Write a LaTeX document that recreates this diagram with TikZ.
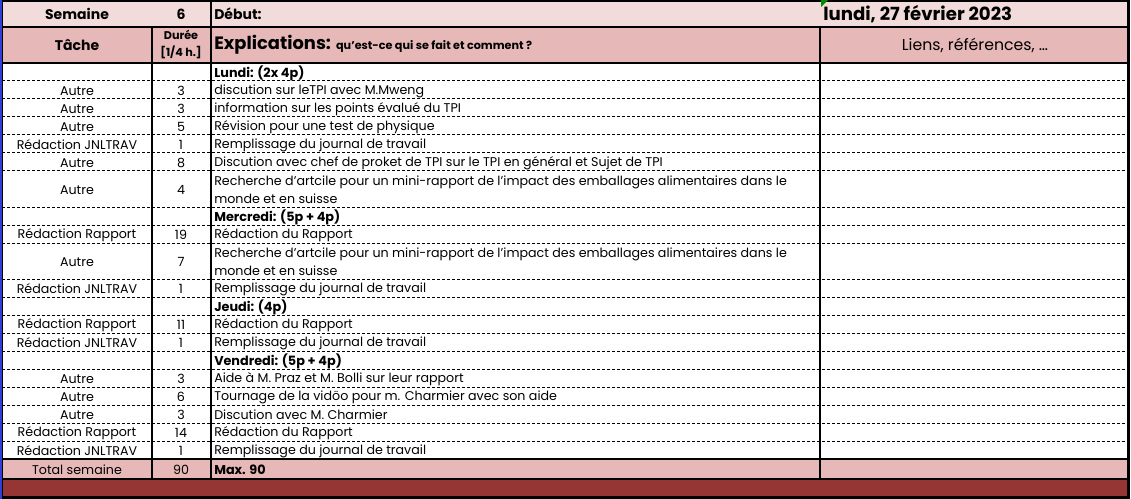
\documentclass[tikz,border=0pt]{standalone}
\usepackage{fontspec}
\setmainfont{Poppins}
\definecolor{rowlight}{HTML}{F2DCDB}
\definecolor{rowhead}{HTML}{E6B8B7}
\definecolor{band}{HTML}{963634}
\definecolor{selblue}{HTML}{2F3FD8}

\begin{document}
\begin{tikzpicture}[x=0.75pt,y=-0.75pt,
  txt/.style={inner sep=0pt,yshift=-0.8pt,font=\fontsize{9.5}{13.5}\selectfont},
  bold txt/.style={txt,font=\fontsize{9.6}{13.5}\selectfont\bfseries},
  hd/.style={inner sep=0pt,font=\fontsize{10.5}{12}\selectfont\bfseries},
  rule/.style={line width=1.8pt},
  sepline/.style={line width=0.75pt,dash pattern=on 2.25pt off 1.5pt}]

\useasboundingbox (0,0) rectangle (1131,499);

%fills
\fill[rowlight] (2,1) rectangle (1129,27);
\fill[rowhead] (2,27) rectangle (1129,63);
\fill[rowhead] (2,459) rectangle (1129,479);
\fill[band] (2,479) rectangle (1129,497);

% dashed rows
\foreach \y in {81,99,117,135,153,171,207,225,243,279,297,315,333,351,369,387,405,423,441}
  \draw[sepline] (2,\y) -- (1129,\y);

% borders
\draw[rule] (1,1) -- (1129,1);
\draw[rule] (2,27) -- (1129,27);
\draw[rule] (2,63) -- (1129,63);
\draw[rule] (2,459) -- (1129,459);
\draw[rule] (2,479) -- (1129,479);
\draw[rule] (2,497.5) -- (1129,497.5);
\draw[rule] (152,27) -- (152,479);
\draw[rule] (211,1) -- (211,479);
\draw[rule] (820,27) -- (820,479);
\draw[rule] (1128.5,0) -- (1128.5,499);
\draw[line width=1.2pt] (2.6,0) -- (2.6,499);
\draw[selblue,line width=1.2pt] (0.8,0) -- (0.8,499);
\fill[green!55!black] (821,0) -- (828,0) -- (821,7) -- cycle;

% header
\node[hd] (sem) at (77,14) {Semaine};
\node[hd] (semnum) at (181,14) {6};
\node[hd,anchor=west] (debut) at (214,14) {Début:};
\node[inner sep=0pt,anchor=west,font=\fontsize{13.6}{15}\selectfont\bfseries] (date) at (823,14) {lundi, 27 février 2023};
\node[hd] (tache) at (77,45) {Tâche};
\node[inner sep=0pt,align=center,font=\fontsize{8.4}{12.75}\selectfont\bfseries] (duree) at (181,45) {Durée\\{[1/4 h.]}};
\node[inner sep=0pt,anchor=west,font=\fontsize{13.4}{14}\selectfont\bfseries] (expl) at (214,45) {Explications: {\fontsize{8.4}{10}\selectfont qu'est-ce qui se fait et comment ?}};
\node[inner sep=0pt,font=\fontsize{11.8}{13}\selectfont] (liens) at (975,45) {Liens, références, …};

% days
\foreach \i/\y/\e in {1/72/{Lundi: (2x 4p)},8/216/{Mercredi: (5p + 4p)},12/306/{Jeudi: (4p)},15/360/{Vendredi: (5p + 4p)}}
  \node[bold txt,anchor=west] (txt\i) at (214,\y) {\e};

% tasks
\foreach \i/\y/\t/\d/\e in {
  2/90/Autre/3/{discution sur leTPI avec M.Mweng},
  3/108/Autre/3/{information sur les points évalué du TPI},
  4/126/Autre/5/{Révision pour une test de physique},
  5/144/Rédaction JNLTRAV/1/{Remplissage du journal de travail},
  6/162/Autre/8/{Discution avec chef de proket de TPI sur le TPI en général et Sujet de TPI},
  7/189/Autre/4/{Recherche d'artcile pour un mini-rapport de l'impact des emballages alimentaires dans le\\monde et en suisse},
  9/234/Rédaction Rapport/19/{Rédaction du Rapport},
  10/261/Autre/7/{Recherche d'artcile pour un mini-rapport de l'impact des emballages alimentaires dans le\\monde et en suisse},
  11/288/Rédaction JNLTRAV/1/{Remplissage du journal de travail},
  13/324/Rédaction Rapport/11/{Rédaction du Rapport},
  14/342/Rédaction JNLTRAV/1/{Remplissage du journal de travail},
  16/378/Autre/3/{Aide à M. Praz et M. Bolli sur leur rapport},
  17/396/Autre/6/{Tournage de la vidöo pour m. Charmier avec son aide},
  18/414/Autre/3/{Discution avec M. Charmier},
  19/432/Rédaction Rapport/14/{Rédaction du Rapport},
  20/450/Rédaction JNLTRAV/1/{Remplissage du journal de travail}}
{
  \node[txt] (task\i) at (77,\y) {\t};
  \node[txt] (dur\i) at (181,\y) {\d};
  \node[txt,anchor=west,align=left] (txt\i) at (214,\y) {\e};
}

% total
\node[txt] (tot) at (77,469) {Total semaine};
\node[txt] (totdur) at (181,469) {90};
\node[bold txt,anchor=west] (max) at (214,469) {Max. 90};

\end{tikzpicture}
\end{document}
